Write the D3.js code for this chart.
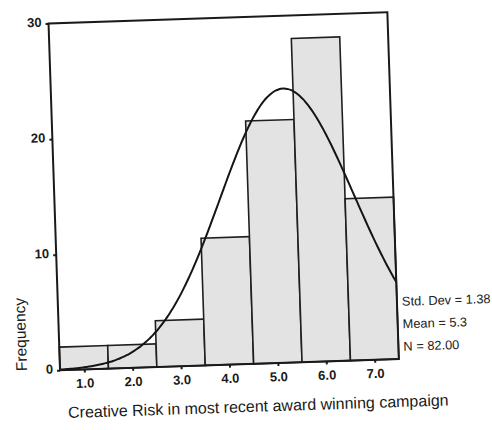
<!DOCTYPE html>
<html>
<head>
<meta charset="utf-8">
<script src="https://cdn.jsdelivr.net/npm/d3@7"></script>
<style>
  html, body { margin: 0; padding: 0; background: #fff; }
  svg { display: block; }
  text { font-family: "Liberation Sans", Arial, sans-serif; fill: #1a1a1a; }
</style>
</head>
<body>
<svg id="chart" width="492" height="430"></svg>
<script>
// Histogram of creative-risk ratings with a fitted normal curve
const categories = [1, 2, 3, 4, 5, 6, 7];
const frequencies = [2, 2, 4, 11, 21, 28, 14];
const yTicks = [0, 10, 20, 30];
const xTickLabels = ["1.0", "2.0", "3.0", "4.0", "5.0", "6.0", "7.0"];
const statLabels = ["Std. Dev = 1.38", "Mean = 5.3", "N = 82.00"];
const stdDev = 1.38;
const mean = 5.3;
const count = 82;

const svg = d3.select("#chart");
const root = svg.append("g").attr("transform", "rotate(-1.9,246,215)");

const frame = { left: 55, right: 394, top: 17, bottom: 364 };

const x = d3.scaleLinear().domain([0.5, 7.5]).range([frame.left, frame.right]);
const y = d3.scaleLinear().domain([0, 30]).range([frame.bottom, frame.top]);

// bars
root.append("g").selectAll("rect")
  .data(categories.map((c, i) => ({ c, f: frequencies[i] })))
  .join("rect")
  .attr("x", d => x(d.c - 0.5))
  .attr("y", d => y(d.f))
  .attr("width", d => x(d.c + 0.5) - x(d.c - 0.5))
  .attr("height", d => y(0) - y(d.f))
  .attr("fill", "#e3e3e3")
  .attr("stroke", "#1f1f1f")
  .attr("stroke-width", 1.6);

// fitted normal curve scaled to counts per unit bin
const binWidth = 1;
const pdf = v => count * binWidth / (stdDev * Math.sqrt(2 * Math.PI)) *
  Math.exp(-0.5 * Math.pow((v - mean) / stdDev, 2));
const curvePts = d3.range(0.5, 7.5001, 0.05).map(v => [v, pdf(v)]);
root.append("path")
  .datum(curvePts)
  .attr("fill", "none")
  .attr("stroke", "#151515")
  .attr("stroke-width", 2)
  .attr("d", d3.line().x(d => x(d[0])).y(d => y(d[1])).curve(d3.curveBasis));

// plot frame
root.append("rect")
  .attr("x", frame.left).attr("y", frame.top)
  .attr("width", frame.right - frame.left)
  .attr("height", frame.bottom - frame.top)
  .attr("fill", "none")
  .attr("stroke", "#1a1a1a")
  .attr("stroke-width", 2);

// y axis
const yAxis = d3.axisLeft(y).tickValues(yTicks).tickSize(3).tickPadding(4).tickFormat(d3.format("d"));
const gy = root.append("g").attr("transform", `translate(${frame.left},0)`).call(yAxis);
gy.select(".domain").remove();
gy.selectAll(".tick line").attr("stroke", "#1a1a1a").attr("stroke-width", 2);
gy.selectAll(".tick text")
  .attr("font-size", 13).attr("font-weight", "bold")
  .attr("font-family", "'Liberation Sans', Arial, sans-serif")
  .attr("dy", "0.2em");

// x axis
const xAxis = d3.axisBottom(x).tickValues(categories).tickSize(3).tickPadding(6)
  .tickFormat((d, i) => xTickLabels[i]);
const gx = root.append("g").attr("transform", `translate(0,${frame.bottom})`).call(xAxis);
gx.select(".domain").remove();
gx.selectAll(".tick line").attr("stroke", "#1a1a1a").attr("stroke-width", 2);
gx.selectAll(".tick text")
  .attr("font-size", 13).attr("font-weight", "bold")
  .attr("font-family", "'Liberation Sans', Arial, sans-serif");

// summary statistics
root.append("g").selectAll("text")
  .data(statLabels)
  .join("text")
  .attr("x", frame.right + 5)
  .attr("y", (d, i) => 311 + i * 22.5)
  .attr("font-size", 12.8)
  .text(d => d);

// axis titles
root.append("text")
  .attr("x", 252).attr("y", 412)
  .attr("text-anchor", "middle")
  .attr("font-size", 16)
  .text("Creative Risk in most recent award winning campaign");

root.append("text")
  .attr("transform", "translate(22,327) rotate(-90)")
  .attr("text-anchor", "middle")
  .attr("font-size", 15.5)
  .text("Frequency");
</script>
</body>
</html>
